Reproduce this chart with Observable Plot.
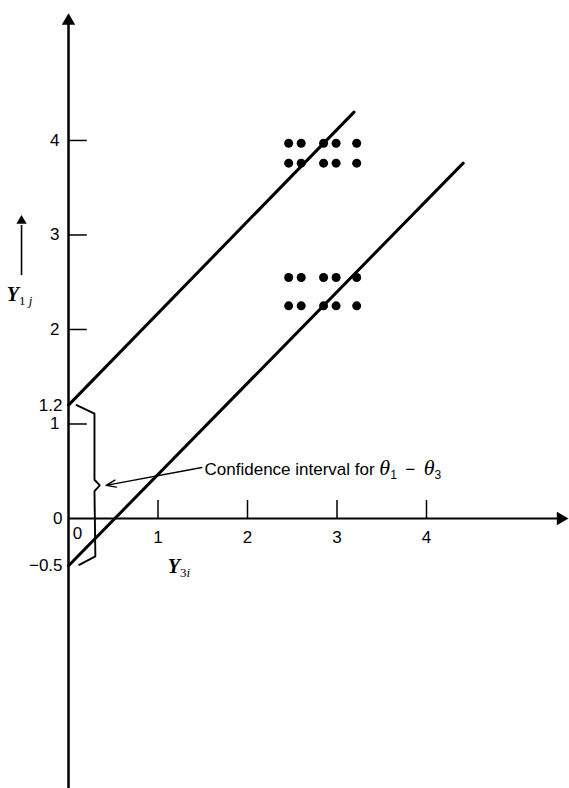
<!DOCTYPE html>
<html>
<head>
<meta charset="utf-8">
<script src="https://cdn.jsdelivr.net/npm/d3@7"></script>
<script src="https://cdn.jsdelivr.net/npm/@observablehq/plot@0.6"></script>
<style>
  body { margin: 0; background: #fff; }
  #chart svg { display: block; }
</style>
</head>
<body>
<div id="chart"></div>
<script>
// Observations: Y3i (horizontal) against Y1j (vertical)
const obsY3 = [
  2.46, 2.60, 2.85, 2.99, 3.22,
  2.46, 2.60, 2.85, 2.99, 3.22,
  2.46, 2.60, 2.85, 2.99, 3.22,
  2.46, 2.60, 2.85, 2.99, 3.22
];
const obsY1 = [
  3.97, 3.97, 3.97, 3.97, 3.97,
  3.76, 3.76, 3.76, 3.76, 3.76,
  2.55, 2.55, 2.55, 2.55, 2.55,
  2.25, 2.25, 2.25, 2.25, 2.25
];

// The two bounding lines: intercept at Y3 = 0 and far end point
const lineIntercepts = [1.2, -0.5];
const lineEndY3 = [3.19, 4.41];
const lineEndY1 = [4.30, 3.76];

// Axis ticks and labels
const yTickValues = [1, 2, 3, 4];
const yTickLabels = ["1", "2", "3", "4"];
const yMarkedValues = [1.2, 0, -0.5];
const yMarkedLabels = ["1.2", "0", "−0.5"];
const xTickValues = [1, 2, 3, 4];
const xTickLabels = ["1", "2", "3", "4"];

// Confidence interval for theta1 - theta3 (lower, upper)
const interval = [-0.5, 1.2];

const points = obsY3.map((x, i) => ({x, y: obsY1[i]}));
const segments = lineIntercepts.flatMap((b, i) => [
  {line: i, x: 0, y: b},
  {line: i, x: lineEndY3[i], y: lineEndY1[i]}
]);

// Brace drawn alongside the interval, tip pointing right at its midpoint
const [lo, hi] = interval;
const mid = (lo + hi) / 2;
const brace = [
  {x: 0.09, y: hi}, {x: 0.29, y: hi - 0.09}, {x: 0.29, y: mid + 0.06},
  {x: 0.35, y: mid}, {x: 0.29, y: mid - 0.06}, {x: 0.30, y: lo + 0.1},
  {x: 0.12, y: lo + 0.01}
];

// Rich labels: italic symbols with subscripts
const serif = "Liberation Serif, DejaVu Serif, serif";
const richParts = {
  "Y1j": [
    {t: "Y", font: serif, italic: true, bold: true, size: 20},
    {t: "1", font: serif, sub: true, size: 13},
    {t: " j", font: serif, italic: true, sub: true, size: 13}
  ],
  "Y3i": [
    {t: "Y", font: serif, italic: true, bold: true, size: 20},
    {t: "3", font: serif, sub: true, size: 13},
    {t: "i", font: serif, italic: true, sub: true, size: 13}
  ],
  "Confidence interval for θ1 − θ3": [
    {t: "Confidence interval for "},
    {t: "θ", font: serif, italic: true, size: 22},
    {t: "1", sub: true, size: 12},
    {t: "\u2002−\u2002"},
    {t: "θ", font: serif, italic: true, size: 22},
    {t: "3", sub: true, size: 12}
  ]
};

const chart = Plot.plot({
  width: 569,
  height: 788,
  margin: 0,
  x: {domain: [-0.76, 5.598], axis: null},
  y: {domain: [-2.857, 5.481], axis: null},
  style: {fontFamily: "Liberation Sans, Arial, sans-serif", fontSize: "17px", color: "#000", background: "#fff"},
  marks: [
    // axes
    Plot.ruleY([0], {x1: 0, x2: 5.5, stroke: "#000", strokeWidth: 2.2}),
    Plot.ruleX([0], {y1: -2.86, y2: 5.26, stroke: "#000", strokeWidth: 2.5}),
    Plot.dot([{x: 5.5, y: 0}], {x: "x", y: "y", symbol: "triangle", r: 5, fill: "#000", stroke: null, rotate: 90}),
    Plot.dot([{x: 0, y: 5.265}], {x: "x", y: "y", symbol: "triangle", r: 5, fill: "#000", stroke: null}),

    // ticks
    Plot.ruleY(yTickValues, {y: d => d, x1: 0, x2: 0.21, stroke: "#000", strokeWidth: 1.5}),
    Plot.ruleX(xTickValues, {x: d => d, y1: 0, y2: 0.19, stroke: "#000", strokeWidth: 1.5}),
    Plot.text(yTickValues, {x: 0, y: d => d, text: (d, i) => yTickLabels[i], textAnchor: "end", dx: -9}),
    Plot.text(yMarkedValues, {x: 0, y: d => d, text: (d, i) => yMarkedLabels[i], textAnchor: "end", dx: -6}),
    Plot.text(xTickValues, {x: d => d, y: 0, text: (d, i) => xTickLabels[i], dy: 19}),
    Plot.text(["0"], {x: 0, y: 0, text: d => d, dx: 9, dy: 15}),

    // axis names
    Plot.ruleX([-0.525], {y1: 2.57, y2: 3.1, stroke: "#000", strokeWidth: 1.6}),
    Plot.dot([{x: -0.525, y: 3.15}], {x: "x", y: "y", symbol: "triangle", r: 3.8, fill: "#000", stroke: null}),
    Plot.text(["Y1j"], {x: -0.69, y: 2.36, text: d => d, textAnchor: "start"}),
    Plot.text(["Y3i"], {x: 1.11, y: -0.52, text: d => d, textAnchor: "start"}),

    // bounding lines
    Plot.line(segments, {x: "x", y: "y", z: "line", stroke: "#000", strokeWidth: 3, strokeLinecap: "round"}),

    // observations
    Plot.dot(points, {x: "x", y: "y", r: 4.5, fill: "#000", stroke: null}),

    // confidence interval annotation
    Plot.line(brace, {x: "x", y: "y", stroke: "#000", strokeWidth: 1.9, strokeLinejoin: "miter"}),
    Plot.arrow([{x1: 1.49, y1: 0.54, x2: 0.42, y2: mid}], {x1: "x1", y1: "y1", x2: "x2", y2: "y2", stroke: "#000", strokeWidth: 1.4, headLength: 11, headAngle: 40}),
    Plot.text(["Confidence interval for θ1 − θ3"], {x: 1.52, y: 0.52, text: d => d, textAnchor: "start"})
  ]
});

// Rebuild the symbol labels with italics and subscripts
d3.select(chart).selectAll("text").each(function () {
  const parts = richParts[this.textContent];
  if (!parts) return;
  const t = d3.select(this);
  t.text(null);
  let shift = 0;
  for (const p of parts) {
    const s = t.append("tspan").text(p.t);
    const target = p.sub ? 4 : 0;
    if (target !== shift) { s.attr("dy", target - shift); shift = target; }
    if (p.font) s.attr("font-family", p.font);
    if (p.size) s.attr("font-size", p.size);
    if (p.italic) s.attr("font-style", "italic");
    if (p.bold) s.attr("font-weight", "bold");
  }
});

document.getElementById("chart").append(chart);
</script>
</body>
</html>
